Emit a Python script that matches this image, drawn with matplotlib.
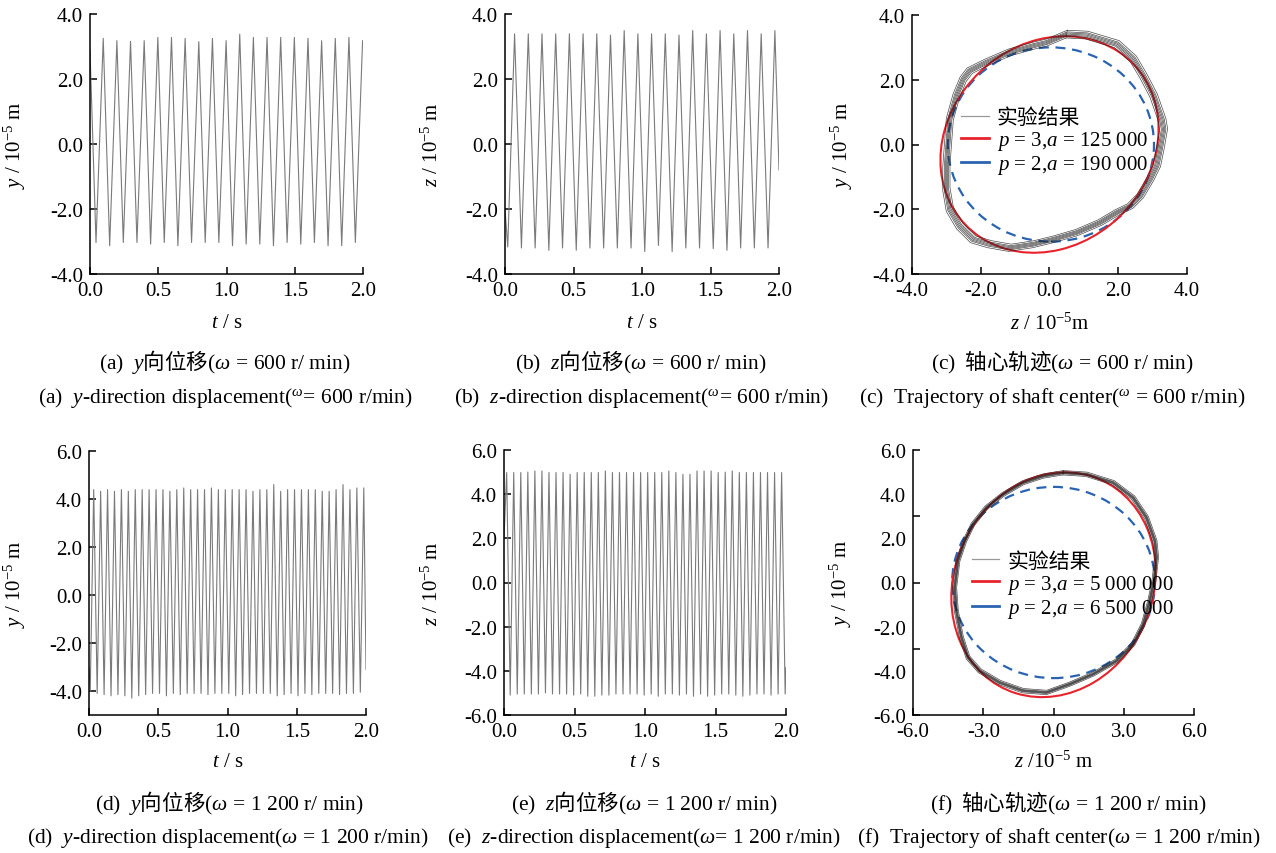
import numpy as np
import matplotlib.pyplot as plt
from matplotlib.patches import Ellipse, Circle
from matplotlib.lines import Line2D

plt.rcParams['font.family'] = ['Liberation Serif', 'Noto Sans CJK SC']
plt.rcParams['mathtext.fontset'] = 'custom'
plt.rcParams['mathtext.rm'] = 'Liberation Serif'
plt.rcParams['mathtext.it'] = 'Liberation Serif:italic'
plt.rcParams['mathtext.bf'] = 'Liberation Serif:bold'
plt.rcParams['axes.unicode_minus'] = True

# ---- time series: peak / trough values (10^-5 m) ----
# (a) y, 600 r/min, 20 cycles
a_t0_peak, a_t0_trough, a_period = 0.097, 0.044, 0.1
a_start, a_end = 2.9, 3.18
a_peaks = [3.25, 3.18, 3.16, 3.18, 3.28, 3.28, 3.25, 3.15, 3.25, 3.18,
           3.38, 3.28, 3.28, 3.28, 3.28, 3.25, 3.18, 3.25, 3.28, 3.18]
a_troughs = [-3.03, -3.13, -3.03, -3.03, -3.08, -3.03, -3.13, -3.03, -3.03, -3.03,
             -3.13, -3.08, -3.08, -3.13, -3.03, -3.08, -3.03, -3.13, -3.13, -3.03]

# (b) z, 600 r/min
b_t0_peak, b_t0_trough, b_period = 0.07, 0.02, 0.1
b_start, b_end = -2.0, -0.8
b_peaks = [3.39, 3.39, 3.39, 3.39, 3.39, 3.39, 3.39, 3.35, 3.49, 3.39,
           3.39, 3.39, 3.35, 3.49, 3.39, 3.49, 3.39, 3.49, 3.39, 3.49]
b_troughs = [-3.17, -3.2, -3.2, -3.27, -3.2, -3.27, -3.2, -3.2, -3.2, -3.2,
             -3.31, -3.12, -3.31, -3.2, -3.2, -3.22, -3.27, -3.2, -3.2, -3.2]

# (d) y, 1200 r/min, 40 cycles
d_t0_peak, d_t0_trough, d_period = 0.034, 0.009, 0.05
d_start, d_end = -3.0, -3.1
d_peaks = [4.39, 4.32, 4.39, 4.32, 4.39, 4.32, 4.39, 4.39, 4.39, 4.39,
           4.39, 4.32, 4.39, 4.46, 4.39, 4.39, 4.39, 4.46, 4.39, 4.39,
           4.39, 4.39, 4.39, 4.32, 4.39, 4.39, 4.6, 4.32, 4.39, 4.39,
           4.39, 4.39, 4.39, 4.32, 4.32, 4.39, 4.6, 4.39, 4.46, 4.46]
d_troughs = [-4.0, -4.1, -4.15, -4.2, -4.15, -4.2, -4.3, -4.2, -4.15, -4.1,
             -4.1, -4.2, -4.1, -4.15, -4.1, -4.1, -4.1, -4.15, -4.1, -4.1,
             -4.1, -4.2, -4.15, -4.1, -4.1, -4.1, -4.1, -4.2, -4.15, -4.1,
             -4.2, -4.1, -4.15, -4.1, -4.1, -4.1, -4.15, -4.1, -4.1, -4.05]

# (e) z, 1200 r/min
e_t0_peak, e_t0_trough, e_period = 0.019, 0.044, 0.05
e_start, e_end = 2.0, -3.85
e_peaks = [4.98, 4.98, 4.98, 5.0, 5.05, 5.05, 4.98, 4.98, 4.98, 4.9,
           4.98, 4.98, 4.98, 4.98, 5.05, 4.98, 4.98, 4.98, 4.98, 4.98,
           4.98, 4.98, 4.98, 5.05, 4.98, 4.9, 4.9, 5.05, 5.05, 5.05,
           4.98, 5.0, 5.05, 4.98, 4.98, 4.98, 4.98, 4.98, 4.98, 4.98]
e_troughs = [-5.1, -5.05, -5.05, -5.05, -5.05, -5.0, -5.05, -5.05, -5.05, -5.1,
             -5.05, -5.15, -5.15, -5.1, -5.1, -5.05, -5.05, -5.05, -5.05, -5.1,
             -5.05, -5.15, -5.05, -5.05, -5.1, -5.05, -5.15, -5.05, -5.15, -5.1,
             -5.05, -5.05, -5.1, -5.15, -5.1, -5.05, -5.05, -5.1, -5.05, -5.05]

# ---- shaft orbits: outline of the measured band (z, y) ----
c_orbit_z = [0.50, 1.08, 1.96, 2.44, 2.73, 3.03, 3.27, 3.32, 3.22, 3.12, 2.93, 2.64,
             2.35, 1.96, 1.47, 0.79, 0.11, -0.47, -1.15, -1.74, -2.22, -2.61, -2.90,
             -3.00, -3.00, -2.95, -2.90, -2.71, -2.51, -2.32, -1.83, -1.15, -0.47, -0.08]
c_orbit_y = [3.41, 3.38, 3.10, 2.64, 2.12, 1.51, 0.78, 0.47, -0.14, -0.66, -1.07, -1.59,
             -1.90, -2.10, -2.41, -2.72, -2.93, -3.08, -3.19, -3.08, -2.93, -2.52, -2.00,
             -1.38, -0.66, 0.06, 0.78, 1.51, 2.02, 2.28, 2.54, 2.85, 3.05, 3.15]
c_loop_scale = [0.965, 0.98, 0.99, 1.0, 1.01, 1.02, 1.035]

f_orbit_z = [0.41, 1.41, 2.55, 3.40, 3.97, 4.33, 4.40, 4.29, 4.11, 3.83, 3.40, 2.69,
             1.69, 0.70, -0.30, -1.30, -2.30, -3.15, -3.65, -3.93, -4.15, -4.22, -4.08,
             -3.79, -3.44, -2.87, -2.15, -1.30, -0.44]
f_orbit_y = [4.97, 4.90, 4.52, 3.84, 2.94, 1.88, 1.13, 0.07, -0.83, -1.89, -2.79, -3.55,
             -4.15, -4.60, -4.98, -4.90, -4.53, -4.00, -3.40, -2.49, -1.28, -0.23, 0.98,
             1.88, 2.64, 3.39, 3.99, 4.52, 4.82]
f_loop_scale = [0.98, 0.99, 0.995, 1.0, 1.005, 1.01, 1.02]

# fitted curves: p = 3 (ellipse) and p = 2 (circle)
c_p3 = dict(center=(0.0, 0.0), width=6.0, height=7.0, angle=-35)
c_p2 = dict(center=(0.04, 0.0), radius=3.0)
f_p3 = dict(center=(0.0, -0.1), width=8.54, height=10.34, angle=-18)
f_p2 = dict(center=(0.0, 0.0), radius=4.33)

c_labels = ['实验结果', r'$p$ = 3,$a$ = 125 000', r'$p$ = 2,$a$ = 190 000']
f_labels = ['实验结果', r'$p$ = 3,$a$ = 5 000 000', r'$p$ = 2,$a$ = 6 500 000']

RED = '#e8232b'
BLUE = '#2a64b0'
GRAY = '#7a7a7a'
FS = 15
CAP = 15.5


def zigzag(t0_trough, t0_peak, period, troughs, peaks, start, end):
    # assemble the extrema in time order
    tt = [t0_trough + i * period for i in range(len(troughs))]
    tp = [t0_peak + i * period for i in range(len(peaks))]
    pts = sorted(list(zip(tt, troughs)) + list(zip(tp, peaks)))
    t = [0.0] + [p[0] for p in pts] + [2.0]
    v = [start] + [p[1] for p in pts] + [end]
    return t, v


def style(ax):
    for s in ['top', 'right']:
        ax.spines[s].set_visible(False)
    for s in ['left', 'bottom']:
        ax.spines[s].set_linewidth(1.1)
    ax.tick_params(direction='in', length=5, width=1.1, labelsize=FS, pad=5)
    ax.yaxis.set_major_formatter(plt.FormatStrFormatter('%.1f'))
    ax.xaxis.set_major_formatter(plt.FormatStrFormatter('%.1f'))


fig = plt.figure(figsize=(12.76, 8.54), dpi=100)
W, H = 1276.0, 854.0


def add_ax(x0, x1, y0, y1):
    return fig.add_axes([x0 / W, 1 - y1 / H, (x1 - x0) / W, (y1 - y0) / H])


# time series panels
ts = [
    (add_ax(90, 363, 15, 275), (a_t0_trough, a_t0_peak, a_period, a_troughs, a_peaks, a_start, a_end),
     (-4, 4), [-4, -2, 0, 2, 4], r'$y$ / 10$^{-5}$ m', -0.227, -0.15),
    (add_ax(505, 779, 15, 275), (b_t0_trough, b_t0_peak, b_period, b_troughs, b_peaks, b_start, b_end),
     (-4, 4), [-4, -2, 0, 2, 4], r'$z$ / 10$^{-5}$ m', -0.227, -0.15),
    (add_ax(89, 366, 452, 716), (d_t0_trough, d_t0_peak, d_period, d_troughs, d_peaks, d_start, d_end),
     (-5, 6), [-4, -2, 0, 2, 4, 6], r'$y$ / 10$^{-5}$ m', -0.222, -0.14),
    (add_ax(504, 786, 451, 716), (e_t0_trough, e_t0_peak, e_period, e_troughs, e_peaks, e_start, e_end),
     (-6, 6), [-6, -4, -2, 0, 2, 4, 6], r'$z$ / 10$^{-5}$ m', -0.216, -0.14),
]
for ax, args, ylim, yt, ylab, ylx, xly in ts:
    t, v = zigzag(*args)
    ax.plot(t, v, color=GRAY, lw=0.8)
    ax.set_xlim(0, 2.0)
    ax.set_ylim(*ylim)
    ax.set_xticks([0, 0.5, 1.0, 1.5, 2.0])
    ax.set_yticks(yt)
    style(ax)
    ax.set_ylabel(ylab, fontsize=FS)
    ax.yaxis.set_label_coords(ylx, 0.5)
    ax.set_xlabel(r'$t$ / s', fontsize=FS)
    ax.xaxis.set_label_coords(0.5, xly)

# orbit panels
orb = [
    (add_ax(912, 1187, 16, 275), c_orbit_z, c_orbit_y, c_loop_scale, c_p3, c_p2, c_labels, 4,
     [-4, -2, 0, 2, 4], r'$z$ / 10$^{-5}$m', -0.209, -0.15, (0.18, 0.64)),
    (add_ax(913, 1194, 451, 716), f_orbit_z, f_orbit_y, f_loop_scale, f_p3, f_p2, f_labels, 6,
     [-6, -3, 0, 3, 6], r'$z$ /10$^{-5}$ m', -0.21, -0.136, (0.21, 0.615)),
]
for ax, oz, oy, scales, p3, p2, labels, lim, xt, xlab, ylx, xly, lpos in orb:
    z = np.append(oz, oz[0])
    y = np.append(oy, oy[0])
    for s in scales:
        ax.plot(z * s, y * s, color='#1e1e1e', lw=0.5, alpha=0.8)
    ax.add_patch(Circle(p2['center'], p2['radius'], fill=False, ec=BLUE, lw=1.6,
                        ls=(0, (4.5, 3.0))))
    ax.add_patch(Ellipse(p3['center'], p3['width'], p3['height'], angle=p3['angle'],
                         fill=False, ec=RED, lw=1.5))
    ax.set_xlim(-lim, lim)
    ax.set_ylim(-lim, lim)
    ax.set_xticks(xt)
    style(ax)
    if lim == 4:
        ax.set_yticks([-4, -2, 0, 2, 4])
    else:
        # labels every 2, tick marks every 3
        ax.set_yticks([-6, -4, -2, 0, 2, 4, 6])
        ax.tick_params(axis='y', which='major', length=0)
        ax.set_yticks([-6, -3, 0, 3, 6], minor=True)
        ax.yaxis.remove_overlapping_locs = False
        ax.tick_params(axis='y', which='minor', direction='in', length=5, width=1.1)
    ax.set_ylabel(r'$y$ / 10$^{-5}$ m', fontsize=FS)
    ax.yaxis.set_label_coords(ylx, 0.5)
    ax.set_xlabel(xlab, fontsize=FS)
    ax.xaxis.set_label_coords(0.5, xly)
    handles = [Line2D([], [], color='#999999', lw=0.9),
               Line2D([], [], color=RED, lw=2),
               Line2D([], [], color=BLUE, lw=2)]
    ax.legend(handles, labels, loc='upper left', bbox_to_anchor=lpos, frameon=False,
              fontsize=FS, handlelength=1.3, handletextpad=0.4, labelspacing=0.05,
              borderpad=0, borderaxespad=0)

# captions
CJK = ['Noto Sans CJK SC']
cap_cn = [
    (225, 362, r'$\mathrm{(a)}\ \ y$向位移$\mathrm{(}\omega\,{=}\,\mathrm{600\ r/\ min)}$'),
    (641, 362, r'$\mathrm{(b)}\ \ z$向位移$\mathrm{(}\omega\,{=}\,\mathrm{600\ r/\ min)}$'),
    (1062, 362, r'$\mathrm{(c)}$  轴心轨迹$\mathrm{(}\omega\,{=}\,\mathrm{600\ r/\ min)}$'),
    (229, 803, r'$\mathrm{(d)}\ \ y$向位移$\mathrm{(}\omega\,{=}\,\mathrm{1\ 200\ r/\ min)}$'),
    (644, 803, r'$\mathrm{(e)}\ \ z$向位移$\mathrm{(}\omega\,{=}\,\mathrm{1\ 200\ r/\ min)}$'),
    (1068, 803, r'$\mathrm{(f)}$  轴心轨迹$\mathrm{(}\omega\,{=}\,\mathrm{1\ 200\ r/\ min)}$'),
]
cap_en = [
    (225, 398, r'(a)  $y$-direction displacement($^{\omega}$= 600 r/min)'),
    (641, 398, r'(b)  $z$-direction displacement($^{\omega}$= 600 r/min)'),
    (1052, 398, r'(c)  Trajectory of shaft center($^{\omega}$ = 600 r/min)'),
    (228, 838, r'(d)  $y$-direction displacement($\omega$ = 1 200 r/min)'),
    (644, 838, r'(e)  $z$-direction displacement($\omega$= 1 200 r/min)'),
    (1059, 838, r'(f)  Trajectory of shaft center($\omega$ = 1 200 r/min)'),
]
for x, y, s in cap_cn:
    fig.text(x / W, 1 - y / H, s, ha='center', va='center', fontsize=CAP, family=CJK)
for x, y, s in cap_en:
    fig.text(x / W, 1 - y / H, s, ha='center', va='center', fontsize=CAP)

fig.savefig('out.png', dpi=100)
